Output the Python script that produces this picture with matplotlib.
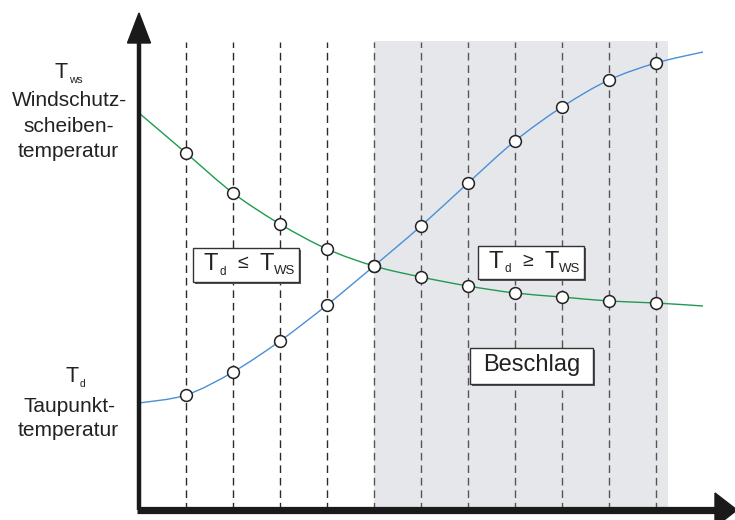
import matplotlib
matplotlib.use("Agg")
import matplotlib.pyplot as plt
from matplotlib.path import Path
from matplotlib.patches import PathPatch, Polygon, Rectangle
import numpy as np

plt.rcParams['font.family'] = ['Liberation Sans', 'DejaVu Sans']

# time steps (arbitrary units), dashed grid at 1..11
steps = [0, 1, 2, 3, 4, 5, 6, 7, 8, 9, 10, 11, 12]
marker_steps = [1, 2, 3, 4, 5, 6, 7, 8, 9, 10, 11]
# windscreen temperature (green, falling)
t_ws = [397, 357, 317, 286, 261, 244, 233, 224, 217, 213, 209, 207, 204]
# dew point temperature (blue, rising)
t_d = [107, 115, 138, 169, 205, 244, 284, 327, 369, 403, 430, 447, 458]
fog_start, fog_end = 5, 11.25

GREEN = '#1f9a4e'
BLUE = '#4a8fd6'
INK = '#222222'


def smooth_path(xs, ys):
    # catmull-rom as cubic bezier, drawn by matplotlib
    pts = np.column_stack([xs, ys]).astype(float)
    ext = np.vstack([pts[0], pts, pts[-1]])
    verts = [pts[0]]
    codes = [Path.MOVETO]
    for i in range(1, len(ext) - 2):
        p0, p1, p2, p3 = ext[i - 1], ext[i], ext[i + 1], ext[i + 2]
        verts += [p1 + (p2 - p0) / 6, p2 - (p3 - p1) / 6, p2]
        codes += [Path.CURVE4] * 3
    return Path(verts, codes)


fig = plt.figure(figsize=(7.35, 5.2), dpi=100)
ax = fig.add_axes([0, 0, 1, 1])
ax.set_xlim(-139 / 47, 596 / 47)
ax.set_ylim(-10, 510)
ax.axis('off')

top = 468
ax.add_patch(Rectangle((fog_start, 0), fog_end - fog_start, top + 1,
                       facecolor='#e6e7eb', edgecolor='none', zorder=0))
for s in marker_steps:
    c = '#555555' if s >= fog_start else '#2a2a2a'
    ax.plot([s, s], [0, top], color=c, lw=1.0, ls=(0, (5.5, 3.5)), zorder=1)

ax.add_patch(PathPatch(smooth_path(steps, t_ws), facecolor='none',
                       edgecolor=GREEN, lw=1.0, zorder=2))
ax.add_patch(PathPatch(smooth_path(steps, t_d), facecolor='none',
                       edgecolor=BLUE, lw=1.0, zorder=2))

ws_pts = [t_ws[steps.index(s)] for s in marker_steps]
d_pts = [t_d[steps.index(s)] for s in marker_steps]
ax.plot(marker_steps, ws_pts, 'o', ms=8.5, mfc='white', mec=INK, mew=1.1, zorder=3)
ax.plot(marker_steps, d_pts, 'o', ms=8.5, mfc='white', mec=INK, mew=1.1, zorder=3)

# axes with arrow heads
ax.plot([0, 0], [0, 470], color='#1a1a1a', lw=3.2, solid_capstyle='butt', zorder=4)
ax.add_patch(Polygon([[-11.5 / 47, 467], [11.5 / 47, 467], [0, 497]],
                     closed=True, color='#1a1a1a', zorder=4))
ax.plot([-2 / 47, 578 / 47], [0, 0], color='#1a1a1a', lw=5.2, solid_capstyle='butt', zorder=4)
ax.add_patch(Polygon([[576 / 47, 17], [576 / 47, -17], [598 / 47, 0]],
                     closed=True, color='#1a1a1a', zorder=4))


def label_box(x0, x1, y0, y1):
    ax.add_patch(Rectangle((x0 + 1.5 / 47, y0 - 1.5), x1 - x0, y1 - y0,
                           facecolor='#555555', edgecolor='none', zorder=5))
    ax.add_patch(Rectangle((x0, y0), x1 - x0, y1 - y0, facecolor='white',
                           edgecolor='#333333', lw=1.0, zorder=6))


def relation(x0, x1, y0, y1, sign):
    label_box(x0, x1, y0, y1)
    yc = (y0 + y1) / 2
    xc = (x0 + x1) / 2
    ax.text(xc - 35 / 47, yc + 1, 'T', fontsize=17, ha='center', va='center', color=INK, zorder=7)
    ax.text(xc - 23 / 47, yc - 7, 'd', fontsize=8.5, ha='center', va='center', color=INK, zorder=7)
    ax.text(xc - 3 / 47, yc + 1, sign, fontsize=14, ha='center', va='center', color=INK, zorder=7)
    ax.text(xc + 21 / 47, yc + 1, 'T', fontsize=17, ha='center', va='center', color=INK, zorder=7)
    ax.text(xc + 28 / 47, yc - 6, 'WS', fontsize=9.5, ha='left', va='center', color=INK, zorder=7)


relation(54 / 47, 160 / 47, 228, 262, '\u2264')
relation(339 / 47, 445 / 47, 231, 264, '\u2265')

label_box(331 / 47, 454 / 47, 126, 162)
ax.text(392.5 / 47, 145, 'Beschlag', fontsize=17, ha='center', va='center',
        color=INK, zorder=7)

# left side labels
W, H = 735, 520
def ftext(px, py, s, size):
    fig.text(px / W, 1 - py / H, s, fontsize=size, ha='center', va='center', color=INK)

ftext(61, 73, 'T', 15.5)
ftext(76, 80, 'ws', 8)
ftext(69, 100, 'Windschutz-', 15)
ftext(69, 126, 'scheiben-', 15)
ftext(68, 151, 'temperatur', 15)
ftext(72, 377, 'T', 15.5)
ftext(83, 384, 'd', 7.5)
ftext(69, 406, 'Taupunkt-', 15)
ftext(68, 430, 'temperatur', 15)

fig.savefig('out.png', dpi=100)
